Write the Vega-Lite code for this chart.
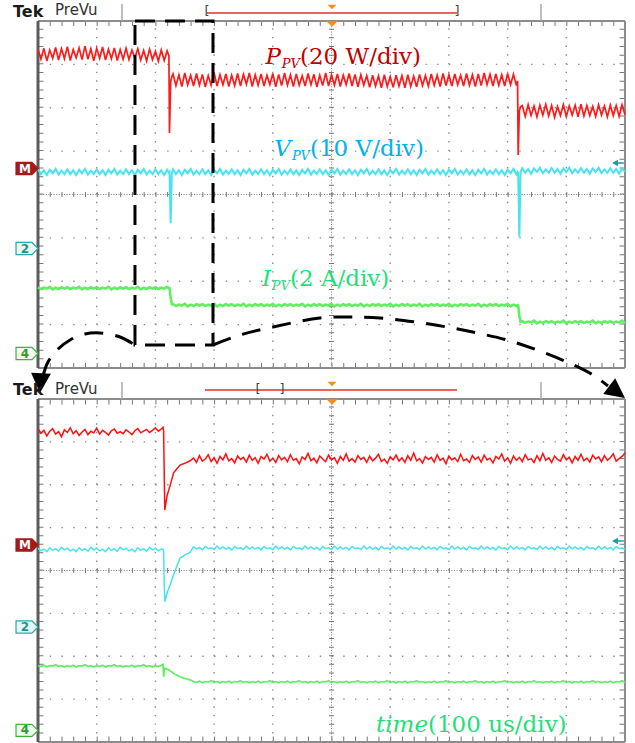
{
"$schema":"https://vega.github.io/schema/vega-lite/v6.json",
"width":635,"height":743,"autosize":{"type":"none"},"padding":0,"background":"white",
"config":{"axis":{"disable":true},"legend":{"disable":true},"view":{"stroke":null}},
"datasets":{
"top":[
{"t":0,"p":7.35,"u":4.58,"i":1.86},{"t":0.05,"p":7.12,"u":4.47,"i":1.82},{"t":0.1,"p":7.37,"u":4.56,"i":1.85},{"t":0.15,"p":7.08,"u":4.45,"i":1.83},{"t":0.2,"p":7.33,"u":4.57,"i":1.87},{"t":0.25,"p":7.14,"u":4.49,"i":1.81},{"t":0.3,"p":7.39,"u":4.59,"i":1.85},{"t":0.35,"p":7.1,"u":4.46,"i":1.82},{"t":0.4,"p":7.36,"u":4.55,"i":1.86},{"t":0.45,"p":7.13,"u":4.47,"i":1.83},
{"t":0.5,"p":7.41,"u":4.58,"i":1.86},{"t":0.55,"p":7.09,"u":4.47,"i":1.82},{"t":0.6,"p":7.34,"u":4.56,"i":1.85},{"t":0.65,"p":7.15,"u":4.45,"i":1.83},{"t":0.7,"p":7.38,"u":4.57,"i":1.87},{"t":0.75,"p":7.11,"u":4.49,"i":1.81},{"t":0.8,"p":7.42,"u":4.59,"i":1.85},{"t":0.85,"p":7.12,"u":4.46,"i":1.82},{"t":0.9,"p":7.36,"u":4.55,"i":1.86},{"t":0.95,"p":7.08,"u":4.47,"i":1.83},
{"t":1,"p":7.37,"u":4.58,"i":1.86},{"t":1.05,"p":7.14,"u":4.47,"i":1.82},{"t":1.1,"p":7.4,"u":4.56,"i":1.85},{"t":1.15,"p":7.1,"u":4.45,"i":1.83},{"t":1.2,"p":7.35,"u":4.57,"i":1.87},{"t":1.25,"p":7.13,"u":4.49,"i":1.81},{"t":1.3,"p":7.38,"u":4.59,"i":1.85},{"t":1.35,"p":7.09,"u":4.46,"i":1.82},{"t":1.4,"p":7.34,"u":4.55,"i":1.86},{"t":1.45,"p":7.12,"u":4.47,"i":1.83},
{"t":1.5,"p":7.37,"u":4.58,"i":1.86},{"t":1.55,"p":7.11,"u":4.47,"i":1.82},{"t":1.6,"p":7.33,"u":4.56,"i":1.85},{"t":1.65,"p":7.15,"u":4.45,"i":1.83},{"t":1.7,"p":7.36,"u":4.57,"i":1.87},{"t":1.75,"p":7.1,"u":4.49,"i":1.81},{"t":1.8,"p":7.32,"u":4.59,"i":1.85},{"t":1.85,"p":7.08,"u":4.46,"i":1.82},{"t":1.9,"p":7.35,"u":4.55,"i":1.86},{"t":1.95,"p":7.11,"u":4.47,"i":1.83},
{"t":2,"p":7.3,"u":4.58,"i":1.86},{"t":2.05,"p":7.07,"u":4.47,"i":1.82},{"t":2.1,"p":7.33,"u":4.56,"i":1.85},{"t":2.15,"p":7.09,"u":4.45,"i":1.83},{"t":2.2,"p":7.31,"u":4.57,"i":1.87},
{"t":2.23,"p":7.2,"u":4.5,"i":1.84},{"t":2.24,"p":5.42,"u":4.52,"i":1.84},{"t":2.26,"p":6.6,"u":3.34,"i":1.62},{"t":2.28,"p":6.72,"u":4.5,"i":1.47},
{"t":2.3,"p":6.78,"u":4.58,"i":1.47},{"t":2.35,"p":6.51,"u":4.47,"i":1.43},{"t":2.4,"p":6.76,"u":4.56,"i":1.46},{"t":2.45,"p":6.49,"u":4.45,"i":1.44},{"t":2.5,"p":6.8,"u":4.57,"i":1.48},{"t":2.55,"p":6.53,"u":4.49,"i":1.42},{"t":2.6,"p":6.75,"u":4.59,"i":1.46},{"t":2.65,"p":6.5,"u":4.46,"i":1.43},{"t":2.7,"p":6.79,"u":4.55,"i":1.47},{"t":2.75,"p":6.52,"u":4.47,"i":1.44},
{"t":2.8,"p":6.77,"u":4.58,"i":1.47},{"t":2.85,"p":6.48,"u":4.47,"i":1.43},{"t":2.9,"p":6.74,"u":4.56,"i":1.46},{"t":2.95,"p":6.52,"u":4.45,"i":1.44},{"t":3,"p":6.81,"u":4.57,"i":1.48},{"t":3.05,"p":6.5,"u":4.49,"i":1.42},{"t":3.1,"p":6.76,"u":4.59,"i":1.46},{"t":3.15,"p":6.53,"u":4.46,"i":1.43},{"t":3.2,"p":6.78,"u":4.55,"i":1.47},{"t":3.25,"p":6.49,"u":4.47,"i":1.44},
{"t":3.3,"p":6.75,"u":4.58,"i":1.47},{"t":3.35,"p":6.51,"u":4.47,"i":1.43},{"t":3.4,"p":6.79,"u":4.56,"i":1.46},{"t":3.45,"p":6.5,"u":4.45,"i":1.44},{"t":3.5,"p":6.77,"u":4.57,"i":1.48},{"t":3.55,"p":6.54,"u":4.49,"i":1.42},{"t":3.6,"p":6.8,"u":4.59,"i":1.46},{"t":3.65,"p":6.49,"u":4.46,"i":1.43},{"t":3.7,"p":6.76,"u":4.55,"i":1.47},{"t":3.75,"p":6.52,"u":4.47,"i":1.44},
{"t":3.8,"p":6.78,"u":4.58,"i":1.47},{"t":3.85,"p":6.5,"u":4.47,"i":1.43},{"t":3.9,"p":6.75,"u":4.56,"i":1.46},{"t":3.95,"p":6.53,"u":4.45,"i":1.44},{"t":4,"p":6.79,"u":4.57,"i":1.48},{"t":4.05,"p":6.48,"u":4.49,"i":1.42},{"t":4.1,"p":6.77,"u":4.59,"i":1.46},{"t":4.15,"p":6.51,"u":4.46,"i":1.43},{"t":4.2,"p":6.8,"u":4.55,"i":1.47},{"t":4.25,"p":6.52,"u":4.47,"i":1.44},
{"t":4.3,"p":6.76,"u":4.58,"i":1.47},{"t":4.35,"p":6.49,"u":4.47,"i":1.43},{"t":4.4,"p":6.78,"u":4.56,"i":1.46},{"t":4.45,"p":6.52,"u":4.45,"i":1.44},{"t":4.5,"p":6.74,"u":4.57,"i":1.48},{"t":4.55,"p":6.5,"u":4.49,"i":1.42},{"t":4.6,"p":6.79,"u":4.59,"i":1.46},{"t":4.65,"p":6.53,"u":4.46,"i":1.43},{"t":4.7,"p":6.77,"u":4.55,"i":1.47},{"t":4.75,"p":6.48,"u":4.47,"i":1.44},
{"t":4.8,"p":6.75,"u":4.58,"i":1.47},{"t":4.85,"p":6.51,"u":4.47,"i":1.43},{"t":4.9,"p":6.8,"u":4.56,"i":1.46},{"t":4.95,"p":6.5,"u":4.45,"i":1.44},{"t":5,"p":6.76,"u":4.57,"i":1.48},{"t":5.05,"p":6.52,"u":4.49,"i":1.42},{"t":5.1,"p":6.78,"u":4.59,"i":1.46},{"t":5.15,"p":6.49,"u":4.46,"i":1.43},{"t":5.2,"p":6.75,"u":4.55,"i":1.47},{"t":5.25,"p":6.53,"u":4.47,"i":1.44},
{"t":5.3,"p":6.79,"u":4.58,"i":1.47},{"t":5.35,"p":6.5,"u":4.47,"i":1.43},{"t":5.4,"p":6.77,"u":4.56,"i":1.46},{"t":5.45,"p":6.48,"u":4.45,"i":1.44},{"t":5.5,"p":6.76,"u":4.57,"i":1.48},{"t":5.55,"p":6.52,"u":4.49,"i":1.42},{"t":5.6,"p":6.74,"u":4.59,"i":1.46},{"t":5.65,"p":6.47,"u":4.46,"i":1.43},{"t":5.7,"p":6.75,"u":4.55,"i":1.47},{"t":5.75,"p":6.5,"u":4.47,"i":1.44},
{"t":5.8,"p":6.73,"u":4.58,"i":1.47},{"t":5.85,"p":6.46,"u":4.47,"i":1.43},{"t":5.9,"p":6.76,"u":4.56,"i":1.46},{"t":5.95,"p":6.49,"u":4.45,"i":1.44},{"t":6,"p":6.72,"u":4.57,"i":1.48},{"t":6.05,"p":6.47,"u":4.49,"i":1.42},{"t":6.1,"p":6.75,"u":4.59,"i":1.46},{"t":6.15,"p":6.5,"u":4.46,"i":1.43},{"t":6.2,"p":6.74,"u":4.55,"i":1.47},{"t":6.25,"p":6.46,"u":4.47,"i":1.44},
{"t":6.3,"p":6.76,"u":4.58,"i":1.47},{"t":6.35,"p":6.49,"u":4.47,"i":1.43},{"t":6.4,"p":6.73,"u":4.56,"i":1.46},{"t":6.45,"p":6.48,"u":4.45,"i":1.44},{"t":6.5,"p":6.77,"u":4.57,"i":1.48},{"t":6.55,"p":6.51,"u":4.49,"i":1.42},{"t":6.6,"p":6.74,"u":4.59,"i":1.46},{"t":6.65,"p":6.5,"u":4.46,"i":1.43},{"t":6.7,"p":6.78,"u":4.55,"i":1.47},{"t":6.75,"p":6.52,"u":4.47,"i":1.44},
{"t":6.8,"p":6.75,"u":4.58,"i":1.47},{"t":6.85,"p":6.49,"u":4.47,"i":1.43},{"t":6.9,"p":6.79,"u":4.56,"i":1.46},{"t":6.95,"p":6.51,"u":4.45,"i":1.44},{"t":7,"p":6.76,"u":4.57,"i":1.48},{"t":7.05,"p":6.5,"u":4.49,"i":1.42},{"t":7.1,"p":6.78,"u":4.59,"i":1.46},{"t":7.15,"p":6.53,"u":4.46,"i":1.43},{"t":7.2,"p":6.75,"u":4.55,"i":1.47},{"t":7.25,"p":6.5,"u":4.47,"i":1.44},
{"t":7.3,"p":6.79,"u":4.58,"i":1.47},{"t":7.35,"p":6.52,"u":4.47,"i":1.43},{"t":7.4,"p":6.76,"u":4.56,"i":1.46},{"t":7.45,"p":6.49,"u":4.45,"i":1.44},{"t":7.5,"p":6.78,"u":4.57,"i":1.48},{"t":7.55,"p":6.51,"u":4.49,"i":1.42},{"t":7.6,"p":6.8,"u":4.59,"i":1.46},{"t":7.65,"p":6.53,"u":4.46,"i":1.43},{"t":7.7,"p":6.77,"u":4.55,"i":1.47},{"t":7.75,"p":6.5,"u":4.47,"i":1.44},
{"t":7.8,"p":6.78,"u":4.58,"i":1.47},{"t":7.85,"p":6.52,"u":4.47,"i":1.43},{"t":7.9,"p":6.76,"u":4.56,"i":1.46},{"t":7.95,"p":6.5,"u":4.45,"i":1.44},{"t":8,"p":6.79,"u":4.57,"i":1.48},{"t":8.05,"p":6.53,"u":4.49,"i":1.42},{"t":8.1,"p":6.77,"u":4.59,"i":1.46},{"t":8.15,"p":6.51,"u":4.46,"i":1.43},
{"t":8.17,"p":6.62,"u":4.52,"i":1.45},{"t":8.18,"p":4.91,"u":4.5,"i":1.44},{"t":8.2,"p":5.92,"u":3.02,"i":1.2},{"t":8.22,"p":6.02,"u":4.52,"i":1.07},
{"t":8.25,"p":6.05,"u":4.61,"i":1.08},{"t":8.3,"p":5.8,"u":4.5,"i":1.04},{"t":8.35,"p":6.07,"u":4.59,"i":1.07},{"t":8.4,"p":5.82,"u":4.48,"i":1.05},{"t":8.45,"p":6.04,"u":4.6,"i":1.09},{"t":8.5,"p":5.79,"u":4.52,"i":1.03},{"t":8.55,"p":6.06,"u":4.62,"i":1.07},{"t":8.6,"p":5.83,"u":4.49,"i":1.04},{"t":8.65,"p":6.08,"u":4.58,"i":1.08},{"t":8.7,"p":5.81,"u":4.5,"i":1.05},
{"t":8.75,"p":6.05,"u":4.61,"i":1.08},{"t":8.8,"p":5.78,"u":4.5,"i":1.04},{"t":8.85,"p":6.03,"u":4.59,"i":1.07},{"t":8.9,"p":5.82,"u":4.48,"i":1.05},{"t":8.95,"p":6.07,"u":4.6,"i":1.09},{"t":9,"p":5.8,"u":4.52,"i":1.03},{"t":9.05,"p":6.04,"u":4.62,"i":1.07},{"t":9.1,"p":5.83,"u":4.49,"i":1.04},{"t":9.15,"p":6.06,"u":4.58,"i":1.08},{"t":9.2,"p":5.79,"u":4.5,"i":1.05},
{"t":9.25,"p":6.08,"u":4.61,"i":1.08},{"t":9.3,"p":5.81,"u":4.5,"i":1.04},{"t":9.35,"p":6.05,"u":4.59,"i":1.07},{"t":9.4,"p":5.82,"u":4.48,"i":1.05},{"t":9.45,"p":6.03,"u":4.6,"i":1.09},{"t":9.5,"p":5.8,"u":4.52,"i":1.03},{"t":9.55,"p":6.07,"u":4.62,"i":1.07},{"t":9.6,"p":5.83,"u":4.49,"i":1.04},{"t":9.65,"p":6.04,"u":4.58,"i":1.08},{"t":9.7,"p":5.79,"u":4.5,"i":1.05},
{"t":9.75,"p":6.06,"u":4.61,"i":1.08},{"t":9.8,"p":5.82,"u":4.5,"i":1.04},{"t":9.85,"p":6.05,"u":4.59,"i":1.07},{"t":9.9,"p":5.8,"u":4.48,"i":1.05},{"t":9.95,"p":6.07,"u":4.6,"i":1.09},{"t":10,"p":5.84,"u":4.52,"i":1.03}
],
"bot":[
{"t":0,"p":7.3,"u":4.52,"i":1.78},{"t":0.05,"p":7.2,"u":4.46,"i":1.76},{"t":0.1,"p":7.27,"u":4.5,"i":1.79},{"t":0.15,"p":7.14,"u":4.44,"i":1.75},{"t":0.2,"p":7.25,"u":4.53,"i":1.78},{"t":0.25,"p":7.31,"u":4.47,"i":1.77},{"t":0.3,"p":7.18,"u":4.51,"i":1.8},{"t":0.35,"p":7.24,"u":4.45,"i":1.76},{"t":0.4,"p":7.12,"u":4.54,"i":1.78},{"t":0.45,"p":7.28,"u":4.48,"i":1.75},
{"t":0.5,"p":7.22,"u":4.52,"i":1.78},{"t":0.55,"p":7.33,"u":4.46,"i":1.76},{"t":0.6,"p":7.19,"u":4.5,"i":1.79},{"t":0.65,"p":7.26,"u":4.44,"i":1.75},{"t":0.7,"p":7.15,"u":4.53,"i":1.78},{"t":0.75,"p":7.23,"u":4.47,"i":1.77},{"t":0.8,"p":7.29,"u":4.51,"i":1.8},{"t":0.85,"p":7.17,"u":4.45,"i":1.76},{"t":0.9,"p":7.25,"u":4.54,"i":1.78},{"t":0.95,"p":7.21,"u":4.48,"i":1.75},
{"t":1,"p":7.32,"u":4.52,"i":1.78},{"t":1.05,"p":7.18,"u":4.46,"i":1.76},{"t":1.1,"p":7.27,"u":4.5,"i":1.79},{"t":1.15,"p":7.22,"u":4.44,"i":1.75},{"t":1.2,"p":7.16,"u":4.53,"i":1.78},{"t":1.25,"p":7.26,"u":4.47,"i":1.77},{"t":1.3,"p":7.3,"u":4.51,"i":1.8},{"t":1.35,"p":7.2,"u":4.45,"i":1.76},{"t":1.4,"p":7.24,"u":4.54,"i":1.78},{"t":1.45,"p":7.19,"u":4.48,"i":1.75},
{"t":1.5,"p":7.28,"u":4.52,"i":1.78},{"t":1.55,"p":7.23,"u":4.46,"i":1.76},{"t":1.6,"p":7.17,"u":4.5,"i":1.79},{"t":1.65,"p":7.26,"u":4.44,"i":1.75},{"t":1.7,"p":7.31,"u":4.53,"i":1.78},{"t":1.75,"p":7.21,"u":4.47,"i":1.77},{"t":1.8,"p":7.25,"u":4.51,"i":1.8},{"t":1.85,"p":7.29,"u":4.45,"i":1.76},{"t":1.9,"p":7.22,"u":4.54,"i":1.78},{"t":1.95,"p":7.27,"u":4.48,"i":1.75},
{"t":2,"p":7.33,"u":4.52,"i":1.78},{"t":2.05,"p":7.25,"u":4.46,"i":1.76},{"t":2.1,"p":7.3,"u":4.5,"i":1.79},
{"t":2.13,"p":7.34,"u":4.49,"i":1.81},{"t":2.14,"p":7.26,"u":4.47,"i":1.52},{"t":2.15,"p":6.3,"u":3.7,"i":1.7},{"t":2.16,"p":5.41,"u":3.27,"i":1.72},{"t":2.2,"p":5.75,"u":3.48,"i":1.7},{"t":2.25,"p":5.98,"u":3.66,"i":1.66},{"t":2.31,"p":6.28,"u":3.9,"i":1.6},{"t":2.36,"p":6.36,"u":4.08,"i":1.56},{"t":2.42,"p":6.46,"u":4.29,"i":1.52},{"t":2.5,"p":6.5,"u":4.36,"i":1.48},{"t":2.59,"p":6.56,"u":4.42,"i":1.45},
{"t":2.65,"p":6.62,"u":4.55,"i":1.41},{"t":2.7,"p":6.52,"u":4.5,"i":1.39},{"t":2.75,"p":6.68,"u":4.54,"i":1.42},{"t":2.8,"p":6.55,"u":4.48,"i":1.38},{"t":2.85,"p":6.6,"u":4.56,"i":1.41},{"t":2.9,"p":6.7,"u":4.51,"i":1.4},{"t":2.95,"p":6.54,"u":4.53,"i":1.43},{"t":3,"p":6.63,"u":4.49,"i":1.39},{"t":3.05,"p":6.5,"u":4.57,"i":1.41},{"t":3.1,"p":6.66,"u":4.5,"i":1.38},
{"t":3.15,"p":6.58,"u":4.55,"i":1.41},{"t":3.2,"p":6.72,"u":4.5,"i":1.39},{"t":3.25,"p":6.56,"u":4.54,"i":1.42},{"t":3.3,"p":6.61,"u":4.48,"i":1.38},{"t":3.35,"p":6.51,"u":4.56,"i":1.41},{"t":3.4,"p":6.67,"u":4.51,"i":1.4},{"t":3.45,"p":6.59,"u":4.53,"i":1.43},{"t":3.5,"p":6.64,"u":4.49,"i":1.39},{"t":3.55,"p":6.53,"u":4.57,"i":1.41},{"t":3.6,"p":6.69,"u":4.5,"i":1.38},
{"t":3.65,"p":6.57,"u":4.55,"i":1.41},{"t":3.7,"p":6.63,"u":4.5,"i":1.39},{"t":3.75,"p":6.5,"u":4.54,"i":1.42},{"t":3.8,"p":6.66,"u":4.48,"i":1.38},{"t":3.85,"p":6.6,"u":4.56,"i":1.41},{"t":3.9,"p":6.71,"u":4.51,"i":1.4},{"t":3.95,"p":6.55,"u":4.53,"i":1.43},{"t":4,"p":6.62,"u":4.49,"i":1.39},{"t":4.05,"p":6.52,"u":4.57,"i":1.41},{"t":4.1,"p":6.68,"u":4.5,"i":1.38},
{"t":4.15,"p":6.58,"u":4.55,"i":1.41},{"t":4.2,"p":6.64,"u":4.5,"i":1.39},{"t":4.25,"p":6.54,"u":4.54,"i":1.42},{"t":4.3,"p":6.7,"u":4.48,"i":1.38},{"t":4.35,"p":6.57,"u":4.56,"i":1.41},{"t":4.4,"p":6.61,"u":4.51,"i":1.4},{"t":4.45,"p":6.49,"u":4.53,"i":1.43},{"t":4.5,"p":6.65,"u":4.49,"i":1.39},{"t":4.55,"p":6.59,"u":4.57,"i":1.41},{"t":4.6,"p":6.73,"u":4.5,"i":1.38},
{"t":4.65,"p":6.56,"u":4.55,"i":1.41},{"t":4.7,"p":6.62,"u":4.5,"i":1.39},{"t":4.75,"p":6.51,"u":4.54,"i":1.42},{"t":4.8,"p":6.67,"u":4.48,"i":1.38},{"t":4.85,"p":6.6,"u":4.56,"i":1.41},{"t":4.9,"p":6.54,"u":4.51,"i":1.4},{"t":4.95,"p":6.69,"u":4.53,"i":1.43},{"t":5,"p":6.58,"u":4.49,"i":1.39},{"t":5.05,"p":6.63,"u":4.57,"i":1.41},{"t":5.1,"p":6.5,"u":4.5,"i":1.38},
{"t":5.15,"p":6.66,"u":4.55,"i":1.41},{"t":5.2,"p":6.57,"u":4.5,"i":1.39},{"t":5.25,"p":6.72,"u":4.54,"i":1.42},{"t":5.3,"p":6.55,"u":4.48,"i":1.38},{"t":5.35,"p":6.61,"u":4.56,"i":1.41},{"t":5.4,"p":6.53,"u":4.51,"i":1.4},{"t":5.45,"p":6.68,"u":4.53,"i":1.43},{"t":5.5,"p":6.59,"u":4.49,"i":1.39},{"t":5.55,"p":6.64,"u":4.57,"i":1.41},{"t":5.6,"p":6.52,"u":4.5,"i":1.38},
{"t":5.65,"p":6.67,"u":4.55,"i":1.41},{"t":5.7,"p":6.56,"u":4.5,"i":1.39},{"t":5.75,"p":6.62,"u":4.54,"i":1.42},{"t":5.8,"p":6.71,"u":4.48,"i":1.38},{"t":5.85,"p":6.54,"u":4.56,"i":1.41},{"t":5.9,"p":6.6,"u":4.51,"i":1.4},{"t":5.95,"p":6.5,"u":4.53,"i":1.43},{"t":6,"p":6.65,"u":4.49,"i":1.39},{"t":6.05,"p":6.58,"u":4.57,"i":1.41},{"t":6.1,"p":6.69,"u":4.5,"i":1.38},
{"t":6.15,"p":6.55,"u":4.55,"i":1.41},{"t":6.2,"p":6.63,"u":4.5,"i":1.39},{"t":6.25,"p":6.52,"u":4.54,"i":1.42},{"t":6.3,"p":6.68,"u":4.48,"i":1.38},{"t":6.35,"p":6.57,"u":4.56,"i":1.41},{"t":6.4,"p":6.74,"u":4.51,"i":1.4},{"t":6.45,"p":6.56,"u":4.53,"i":1.43},{"t":6.5,"p":6.61,"u":4.49,"i":1.39},{"t":6.55,"p":6.51,"u":4.57,"i":1.41},{"t":6.6,"p":6.66,"u":4.5,"i":1.38},
{"t":6.65,"p":6.59,"u":4.55,"i":1.41},{"t":6.7,"p":6.64,"u":4.5,"i":1.39},{"t":6.75,"p":6.53,"u":4.54,"i":1.42},{"t":6.8,"p":6.7,"u":4.48,"i":1.38},{"t":6.85,"p":6.57,"u":4.56,"i":1.41},{"t":6.9,"p":6.62,"u":4.51,"i":1.4},{"t":6.95,"p":6.49,"u":4.53,"i":1.43},{"t":7,"p":6.67,"u":4.49,"i":1.39},{"t":7.05,"p":6.58,"u":4.57,"i":1.41},{"t":7.1,"p":6.63,"u":4.5,"i":1.38},
{"t":7.15,"p":6.54,"u":4.55,"i":1.41},{"t":7.2,"p":6.71,"u":4.5,"i":1.39},{"t":7.25,"p":6.56,"u":4.54,"i":1.42},{"t":7.3,"p":6.6,"u":4.48,"i":1.38},{"t":7.35,"p":6.52,"u":4.56,"i":1.41},{"t":7.4,"p":6.68,"u":4.51,"i":1.4},{"t":7.45,"p":6.59,"u":4.53,"i":1.43},{"t":7.5,"p":6.65,"u":4.49,"i":1.39},{"t":7.55,"p":6.53,"u":4.57,"i":1.41},{"t":7.6,"p":6.69,"u":4.5,"i":1.38},
{"t":7.65,"p":6.58,"u":4.55,"i":1.41},{"t":7.7,"p":6.62,"u":4.5,"i":1.39},{"t":7.75,"p":6.51,"u":4.54,"i":1.42},{"t":7.8,"p":6.66,"u":4.48,"i":1.38},{"t":7.85,"p":6.6,"u":4.56,"i":1.41},{"t":7.9,"p":6.72,"u":4.51,"i":1.4},{"t":7.95,"p":6.55,"u":4.53,"i":1.43},{"t":8,"p":6.63,"u":4.49,"i":1.39},{"t":8.05,"p":6.5,"u":4.57,"i":1.41},{"t":8.1,"p":6.67,"u":4.5,"i":1.38},
{"t":8.15,"p":6.57,"u":4.55,"i":1.41},{"t":8.2,"p":6.64,"u":4.5,"i":1.39},{"t":8.25,"p":6.54,"u":4.54,"i":1.42},{"t":8.3,"p":6.7,"u":4.48,"i":1.38},{"t":8.35,"p":6.58,"u":4.56,"i":1.41},{"t":8.4,"p":6.61,"u":4.51,"i":1.4},{"t":8.45,"p":6.52,"u":4.53,"i":1.43},{"t":8.5,"p":6.68,"u":4.49,"i":1.39},{"t":8.55,"p":6.56,"u":4.57,"i":1.41},{"t":8.6,"p":6.73,"u":4.5,"i":1.38},
{"t":8.65,"p":6.57,"u":4.55,"i":1.41},{"t":8.7,"p":6.63,"u":4.5,"i":1.39},{"t":8.75,"p":6.52,"u":4.54,"i":1.42},{"t":8.8,"p":6.67,"u":4.48,"i":1.38},{"t":8.85,"p":6.59,"u":4.56,"i":1.41},{"t":8.9,"p":6.55,"u":4.51,"i":1.4},{"t":8.95,"p":6.7,"u":4.53,"i":1.43},{"t":9,"p":6.58,"u":4.49,"i":1.39},{"t":9.05,"p":6.64,"u":4.57,"i":1.41},{"t":9.1,"p":6.51,"u":4.5,"i":1.38},
{"t":9.15,"p":6.66,"u":4.55,"i":1.41},{"t":9.2,"p":6.57,"u":4.5,"i":1.39},{"t":9.25,"p":6.71,"u":4.54,"i":1.42},{"t":9.3,"p":6.56,"u":4.48,"i":1.38},{"t":9.35,"p":6.62,"u":4.56,"i":1.41},{"t":9.4,"p":6.53,"u":4.51,"i":1.4},{"t":9.45,"p":6.69,"u":4.53,"i":1.43},{"t":9.5,"p":6.6,"u":4.49,"i":1.39},{"t":9.55,"p":6.65,"u":4.57,"i":1.41},{"t":9.6,"p":6.54,"u":4.5,"i":1.38},
{"t":9.65,"p":6.68,"u":4.55,"i":1.41},{"t":9.7,"p":6.57,"u":4.5,"i":1.39},{"t":9.75,"p":6.63,"u":4.54,"i":1.42},{"t":9.8,"p":6.72,"u":4.48,"i":1.38},{"t":9.85,"p":6.55,"u":4.56,"i":1.41},{"t":9.9,"p":6.61,"u":4.51,"i":1.4},{"t":9.95,"p":6.66,"u":4.53,"i":1.43},{"t":10,"p":6.74,"u":4.49,"i":1.39}
]
},
"resolve":{"scale":{"y":"independent"}},
"layer":[
{"layer":[
{"data":{"values":[{"v":1},{"v":2},{"v":3},{"v":5},{"v":6},{"v":7}]},"mark":{"type":"rule","color":"#8c8c8c","strokeWidth":1.4,"strokeDash":[1.4,10.34]},"encoding":{"x":{"datum":0,"type":"quantitative","scale":{"domain":[-0.6474,10.1704],"nice":false,"zero":false}},"x2":{"datum":10},"y":{"field":"v","type":"quantitative","scale":{"domain":[-8.6455,8.4841],"nice":false,"zero":false}}}},
{"data":{"values":[{"t":1},{"t":2},{"t":3},{"t":4},{"t":6},{"t":7},{"t":8},{"t":9}]},"mark":{"type":"rule","color":"#8c8c8c","strokeWidth":1.4,"strokeDash":[1.4,7.275]},"encoding":{"x":{"field":"t","type":"quantitative","scale":{"domain":[-0.6474,10.1704],"nice":false,"zero":false}},"y":{"datum":0,"type":"quantitative","scale":{"domain":[-8.6455,8.4841],"nice":false,"zero":false}},"y2":{"datum":8}}},
{"data":{"values":[{}]},"mark":{"type":"rule","color":"#808080","strokeWidth":1,"strokeDash":[1,1.6]},"encoding":{"x":{"datum":0,"type":"quantitative","scale":{"domain":[-0.6474,10.1704],"nice":false,"zero":false}},"x2":{"datum":10},"y":{"datum":4,"type":"quantitative","scale":{"domain":[-8.6455,8.4841],"nice":false,"zero":false}}}},
{"data":{"values":[{}]},"mark":{"type":"rule","color":"#808080","strokeWidth":1,"strokeDash":[1,1.6]},"encoding":{"x":{"datum":5,"type":"quantitative","scale":{"domain":[-0.6474,10.1704],"nice":false,"zero":false}},"y":{"datum":0,"type":"quantitative","scale":{"domain":[-8.6455,8.4841],"nice":false,"zero":false}},"y2":{"datum":8}}},
{"data":{"values":[{"v":4},{"v":0.06},{"v":7.94}]},"mark":{"type":"rule","color":"#777777","strokeWidth":5,"strokeDash":[1,10.74]},"encoding":{"x":{"datum":0,"type":"quantitative","scale":{"domain":[-0.6474,10.1704],"nice":false,"zero":false}},"x2":{"datum":10},"y":{"field":"v","type":"quantitative","scale":{"domain":[-8.6455,8.4841],"nice":false,"zero":false}}}},
{"data":{"values":[{"t":5},{"t":0.05},{"t":9.95}]},"mark":{"type":"rule","color":"#777777","strokeWidth":5,"strokeDash":[1,7.675]},"encoding":{"x":{"field":"t","type":"quantitative","scale":{"domain":[-0.6474,10.1704],"nice":false,"zero":false}},"y":{"datum":0,"type":"quantitative","scale":{"domain":[-8.6455,8.4841],"nice":false,"zero":false}},"y2":{"datum":8}}},
{"data":{"values":[{"v":0},{"v":8}]},"mark":{"type":"rule","color":"#8c8c8c","strokeWidth":2},"encoding":{"x":{"datum":0,"type":"quantitative","scale":{"domain":[-0.6474,10.1704],"nice":false,"zero":false}},"x2":{"datum":10},"y":{"field":"v","type":"quantitative","scale":{"domain":[-8.6455,8.4841],"nice":false,"zero":false}}}},
{"data":{"values":[{"t":10}]},"mark":{"type":"rule","color":"#8c8c8c","strokeWidth":2},"encoding":{"x":{"field":"t","type":"quantitative","scale":{"domain":[-0.6474,10.1704],"nice":false,"zero":false}},"y":{"datum":0,"type":"quantitative","scale":{"domain":[-8.6455,8.4841],"nice":false,"zero":false}},"y2":{"datum":8}}},
{"data":{"values":[{"t":0}]},"mark":{"type":"rule","color":"#5c5c5c","strokeWidth":3},"encoding":{"x":{"field":"t","type":"quantitative","scale":{"domain":[-0.6474,10.1704],"nice":false,"zero":false}},"y":{"datum":0,"type":"quantitative","scale":{"domain":[-8.6455,8.4841],"nice":false,"zero":false}},"y2":{"datum":8}}},
{"data":{"name":"top"},"mark":{"type":"line","color":"#ff1a1a","strokeWidth":1.7},"encoding":{"x":{"field":"t","type":"quantitative","scale":{"domain":[-0.6474,10.1704],"nice":false,"zero":false}},"y":{"field":"p","type":"quantitative","scale":{"domain":[-8.6455,8.4841],"nice":false,"zero":false}}}},
{"data":{"name":"top"},"mark":{"type":"line","color":"#46e4ee","strokeWidth":2},"encoding":{"x":{"field":"t","type":"quantitative","scale":{"domain":[-0.6474,10.1704],"nice":false,"zero":false}},"y":{"field":"u","type":"quantitative","scale":{"domain":[-8.6455,8.4841],"nice":false,"zero":false}}}},
{"data":{"name":"top"},"mark":{"type":"line","color":"#5ef05e","strokeWidth":2.6},"encoding":{"x":{"field":"t","type":"quantitative","scale":{"domain":[-0.6474,10.1704],"nice":false,"zero":false}},"y":{"field":"i","type":"quantitative","scale":{"domain":[-8.6455,8.4841],"nice":false,"zero":false}}}},
{"data":{"values":[{"t":4.14,"v":7.009,"s":"P","c":"P"},{"t":4.31,"v":4.888,"s":"V","c":"V"},{"t":3.969,"v":1.89,"s":"I","c":"I"}]},"mark":{"type":"text","align":"right","baseline":"alphabetic","font":"DejaVu Serif","fontStyle":"italic","fontSize":23},"encoding":{"x":{"field":"t","type":"quantitative","scale":{"domain":[-0.6474,10.1704],"nice":false,"zero":false}},"y":{"field":"v","type":"quantitative","scale":{"domain":[-8.6455,8.4841],"nice":false,"zero":false}},"text":{"field":"s"},"color":{"field":"c","type":"nominal","scale":{"domain":["P","V","I","T","m","n2","n4"],"range":["#c00000","#00b0f0","#1fe07a","#1fe07a","#ffffff","#1a9595","#2d9e2d"]},"legend":null}}},
{"data":{"values":[{"t":4.463,"v":6.916,"s":"PV","c":"P"},{"t":4.634,"v":4.795,"s":"PV","c":"V"},{"t":4.293,"v":1.798,"s":"PV","c":"I"}]},"mark":{"type":"text","align":"right","baseline":"alphabetic","font":"DejaVu Serif","fontStyle":"italic","fontSize":13},"encoding":{"x":{"field":"t","type":"quantitative","scale":{"domain":[-0.6474,10.1704],"nice":false,"zero":false}},"y":{"field":"v","type":"quantitative","scale":{"domain":[-8.6455,8.4841],"nice":false,"zero":false}},"text":{"field":"s"},"color":{"field":"c","type":"nominal","scale":{"domain":["P","V","I","T","m","n2","n4"],"range":["#c00000","#00b0f0","#1fe07a","#1fe07a","#ffffff","#1a9595","#2d9e2d"]},"legend":null}}},
{"data":{"values":[{"t":4.463,"v":7.009,"s":"(20 W/div)","c":"P"},{"t":4.634,"v":4.888,"s":"(10 V/div)","c":"V"},{"t":4.293,"v":1.89,"s":"(2 A/div)","c":"I"}]},"mark":{"type":"text","align":"left","baseline":"alphabetic","font":"DejaVu Serif","fontSize":23},"encoding":{"x":{"field":"t","type":"quantitative","scale":{"domain":[-0.6474,10.1704],"nice":false,"zero":false}},"y":{"field":"v","type":"quantitative","scale":{"domain":[-8.6455,8.4841],"nice":false,"zero":false}},"text":{"field":"s"},"color":{"field":"c","type":"nominal","scale":{"domain":["P","V","I","T","m","n2","n4"],"range":["#c00000","#00b0f0","#1fe07a","#1fe07a","#ffffff","#1a9595","#2d9e2d"]},"legend":null}}},
{"data":{"values":[{"t":-0.426,"v":8.092,"s":"Tek"}]},"mark":{"type":"text","align":"left","baseline":"alphabetic","font":"DejaVu Sans","fontWeight":"bold","fontSize":16,"color":"#1a1a1a"},"encoding":{"x":{"field":"t","type":"quantitative","scale":{"domain":[-0.6474,10.1704],"nice":false,"zero":false}},"y":{"field":"v","type":"quantitative","scale":{"domain":[-8.6455,8.4841],"nice":false,"zero":false}},"text":{"field":"s"}}},
{"data":{"values":[{"t":0.29,"v":8.127,"s":"PreVu"}]},"mark":{"type":"text","align":"left","baseline":"alphabetic","font":"DejaVu Sans","fontSize":15,"color":"#333333"},"encoding":{"x":{"field":"t","type":"quantitative","scale":{"domain":[-0.6474,10.1704],"nice":false,"zero":false}},"y":{"field":"v","type":"quantitative","scale":{"domain":[-8.6455,8.4841],"nice":false,"zero":false}},"text":{"field":"s"}}},
{"data":{"values":[{"t":1.431},{"t":8.569}]},"mark":{"type":"rule","color":"#aaaaaa","strokeWidth":1.5},"encoding":{"x":{"field":"t","type":"quantitative","scale":{"domain":[-0.6474,10.1704],"nice":false,"zero":false}},"y":{"datum":7.999,"type":"quantitative","scale":{"domain":[-8.6455,8.4841],"nice":false,"zero":false}},"y2":{"datum":8.392}}},
{"data":{"values":[{}]},"mark":{"type":"rule","color":"#e53030","strokeWidth":1.5},"encoding":{"x":{"datum":2.879,"type":"quantitative","scale":{"domain":[-0.6474,10.1704],"nice":false,"zero":false}},"x2":{"datum":7.138},"y":{"datum":8.184,"type":"quantitative","scale":{"domain":[-8.6455,8.4841],"nice":false,"zero":false}}}},
{"data":{"values":[{"t":2.879,"v":8.231,"s":"["},{"t":7.138,"v":8.231,"s":"]"}]},"mark":{"type":"text","align":"center","baseline":"middle","font":"DejaVu Sans","fontSize":13,"color":"#444444"},"encoding":{"x":{"field":"t","type":"quantitative","scale":{"domain":[-0.6474,10.1704],"nice":false,"zero":false}},"y":{"field":"v","type":"quantitative","scale":{"domain":[-8.6455,8.4841],"nice":false,"zero":false}},"text":{"field":"s"}}},
{"data":{"values":[{"t":5.009,"v":8.323}]},"mark":{"type":"point","shape":"M -1 -0.5 L 1 -0.5 L 0 0.5 Z","filled":true,"color":"#f0901e","opacity":1,"size":81},"encoding":{"x":{"field":"t","type":"quantitative","scale":{"domain":[-0.6474,10.1704],"nice":false,"zero":false}},"y":{"field":"v","type":"quantitative","scale":{"domain":[-8.6455,8.4841],"nice":false,"zero":false}}}},
{"data":{"values":[{"t":5.009,"v":7.931}]},"mark":{"type":"point","shape":"M -1 -0.5 L 1 -0.5 L 0 0.5 Z","filled":true,"color":"#f0901e","opacity":1,"size":130},"encoding":{"x":{"field":"t","type":"quantitative","scale":{"domain":[-0.6474,10.1704],"nice":false,"zero":false}},"y":{"field":"v","type":"quantitative","scale":{"domain":[-8.6455,8.4841],"nice":false,"zero":false}}}},
{"data":{"values":[{"t":-0.187,"v":4.599,"k":"m"},{"t":-0.187,"v":2.755,"k":"n2"},{"t":-0.187,"v":0.334,"k":"n4"}]},"mark":{"type":"point","shape":"M -1 -0.55 L 0.45 -0.55 L 1 0 L 0.45 0.55 L -1 0.55 Z","filled":true,"opacity":1,"size":484,"strokeWidth":1.2},"encoding":{"x":{"field":"t","type":"quantitative","scale":{"domain":[-0.6474,10.1704],"nice":false,"zero":false}},"y":{"field":"v","type":"quantitative","scale":{"domain":[-8.6455,8.4841],"nice":false,"zero":false}},"fill":{"field":"k","type":"nominal","scale":{"domain":["m","n2","n4"],"range":["#a51a1a","#e9f8f8","#effbef"]},"legend":null},"stroke":{"field":"k","type":"nominal","scale":{"domain":["m","n2","n4"],"range":["#a51a1a","#2aa8a8","#3cb43c"]},"legend":null}}},
{"data":{"values":[{"t":-0.221,"v":4.599,"s":"M","c":"m"},{"t":-0.221,"v":2.755,"s":"2","c":"n2"},{"t":-0.221,"v":0.334,"s":"4","c":"n4"}]},"mark":{"type":"text","align":"center","baseline":"middle","font":"DejaVu Sans","fontWeight":"bold","fontSize":12},"encoding":{"x":{"field":"t","type":"quantitative","scale":{"domain":[-0.6474,10.1704],"nice":false,"zero":false}},"y":{"field":"v","type":"quantitative","scale":{"domain":[-8.6455,8.4841],"nice":false,"zero":false}},"text":{"field":"s"},"color":{"field":"c","type":"nominal","scale":{"domain":["P","V","I","T","m","n2","n4"],"range":["#c00000","#00b0f0","#1fe07a","#1fe07a","#ffffff","#1a9595","#2d9e2d"]},"legend":null}}},
{"data":{"values":[{"t":9.83,"v":4.726}]},"mark":{"type":"point","shape":"triangle-left","filled":true,"color":"#1a9a9a","opacity":1,"size":45},"encoding":{"x":{"field":"t","type":"quantitative","scale":{"domain":[-0.6474,10.1704],"nice":false,"zero":false}},"y":{"field":"v","type":"quantitative","scale":{"domain":[-8.6455,8.4841],"nice":false,"zero":false}}}},
{"data":{"values":[{}]},"mark":{"type":"rule","color":"#1a9a9a","strokeWidth":1.5},"encoding":{"x":{"datum":9.87,"type":"quantitative","scale":{"domain":[-0.6474,10.1704],"nice":false,"zero":false}},"x2":{"datum":9.98},"y":{"datum":4.726,"type":"quantitative","scale":{"domain":[-8.6455,8.4841],"nice":false,"zero":false}}}},
{"data":{"values":[{"t1":1.652,"t2":2.981,"v1":0.53,"v2":8.0}]},"mark":{"type":"rect","filled":false,"stroke":"#000000","strokeWidth":3,"strokeDash":[20,10]},"encoding":{"x":{"field":"t1","type":"quantitative","scale":{"domain":[-0.6474,10.1704],"nice":false,"zero":false}},"x2":{"field":"t2"},"y":{"field":"v1","type":"quantitative","scale":{"domain":[-8.6455,8.4841],"nice":false,"zero":false}},"y2":{"field":"v2"}}},
{"data":{"values":[
{"a":"L","o":0,"t":0.085,"v":-0.184},{"a":"L","o":1,"t":0.17,"v":0.138},{"a":"L","o":2,"t":0.324,"v":0.415},{"a":"L","o":3,"t":0.545,"v":0.646},{"a":"L","o":4,"t":0.801,"v":0.784},{"a":"L","o":5,"t":1.056,"v":0.807},{"a":"L","o":6,"t":1.397,"v":0.715},{"a":"L","o":7,"t":1.652,"v":0.53},
{"a":"R","o":0,"t":2.981,"v":0.53},{"a":"R","o":1,"t":3.441,"v":0.761},{"a":"R","o":2,"t":4.003,"v":0.945},{"a":"R","o":3,"t":4.804,"v":1.153},{"a":"R","o":4,"t":5.315,"v":1.176},{"a":"R","o":5,"t":5.826,"v":1.153},{"a":"R","o":6,"t":6.422,"v":1.061},{"a":"R","o":7,"t":6.968,"v":0.945},{"a":"R","o":8,"t":7.479,"v":0.807},{"a":"R","o":9,"t":7.99,"v":0.646},{"a":"R","o":10,"t":8.501,"v":0.415},{"a":"R","o":11,"t":9.012,"v":0.138},{"a":"R","o":12,"t":9.455,"v":-0.161},{"a":"R","o":13,"t":9.71,"v":-0.415}
]},"mark":{"type":"line","color":"#000000","strokeWidth":3,"strokeDash":[19,12],"interpolate":"catmull-rom"},"encoding":{"x":{"field":"t","type":"quantitative","scale":{"domain":[-0.6474,10.1704],"nice":false,"zero":false}},"y":{"field":"v","type":"quantitative","scale":{"domain":[-8.6455,8.4841],"nice":false,"zero":false}},"detail":{"field":"a","type":"nominal"},"order":{"field":"o","type":"quantitative"}}},
{"data":{"values":[{"t":0.043,"v":-0.323}]},"mark":{"type":"point","shape":"M 0 -1 L 0.9 0.8 L -0.9 0.8 Z","filled":true,"color":"#000000","opacity":1,"size":484,"angle":183},"encoding":{"x":{"field":"t","type":"quantitative","scale":{"domain":[-0.6474,10.1704],"nice":false,"zero":false}},"y":{"field":"v","type":"quantitative","scale":{"domain":[-8.6455,8.4841],"nice":false,"zero":false}}}},
{"data":{"values":[{"t":9.85,"v":-0.54}]},"mark":{"type":"point","shape":"M 0 -1 L 0.9 0.8 L -0.9 0.8 Z","filled":true,"color":"#000000","opacity":1,"size":484,"angle":127},"encoding":{"x":{"field":"t","type":"quantitative","scale":{"domain":[-0.6474,10.1704],"nice":false,"zero":false}},"y":{"field":"v","type":"quantitative","scale":{"domain":[-8.6455,8.4841],"nice":false,"zero":false}}}}
]},
{"layer":[
{"data":{"values":[{"v":1},{"v":2},{"v":3},{"v":5},{"v":6},{"v":7}]},"mark":{"type":"rule","color":"#8c8c8c","strokeWidth":1.4,"strokeDash":[1.4,10.34]},"encoding":{"x":{"datum":0,"type":"quantitative","scale":{"domain":[-0.6474,10.1704],"nice":false,"zero":false}},"x2":{"datum":10},"y":{"field":"v","type":"quantitative","scale":{"domain":[-0.0233,17.306],"nice":false,"zero":false}}}},
{"data":{"values":[{"t":1},{"t":2},{"t":3},{"t":4},{"t":6},{"t":7},{"t":8},{"t":9}]},"mark":{"type":"rule","color":"#8c8c8c","strokeWidth":1.4,"strokeDash":[1.4,7.175]},"encoding":{"x":{"field":"t","type":"quantitative","scale":{"domain":[-0.6474,10.1704],"nice":false,"zero":false}},"y":{"datum":0,"type":"quantitative","scale":{"domain":[-0.0233,17.306],"nice":false,"zero":false}},"y2":{"datum":8}}},
{"data":{"values":[{}]},"mark":{"type":"rule","color":"#808080","strokeWidth":1,"strokeDash":[1,1.6]},"encoding":{"x":{"datum":0,"type":"quantitative","scale":{"domain":[-0.6474,10.1704],"nice":false,"zero":false}},"x2":{"datum":10},"y":{"datum":4,"type":"quantitative","scale":{"domain":[-0.0233,17.306],"nice":false,"zero":false}}}},
{"data":{"values":[{}]},"mark":{"type":"rule","color":"#808080","strokeWidth":1,"strokeDash":[1,1.6]},"encoding":{"x":{"datum":5,"type":"quantitative","scale":{"domain":[-0.6474,10.1704],"nice":false,"zero":false}},"y":{"datum":0,"type":"quantitative","scale":{"domain":[-0.0233,17.306],"nice":false,"zero":false}},"y2":{"datum":8}}},
{"data":{"values":[{"v":4},{"v":0.07},{"v":7.93}]},"mark":{"type":"rule","color":"#777777","strokeWidth":5,"strokeDash":[1,10.74]},"encoding":{"x":{"datum":0,"type":"quantitative","scale":{"domain":[-0.6474,10.1704],"nice":false,"zero":false}},"x2":{"datum":10},"y":{"field":"v","type":"quantitative","scale":{"domain":[-0.0233,17.306],"nice":false,"zero":false}}}},
{"data":{"values":[{"t":5},{"t":0.05},{"t":9.95}]},"mark":{"type":"rule","color":"#777777","strokeWidth":5,"strokeDash":[1,7.575]},"encoding":{"x":{"field":"t","type":"quantitative","scale":{"domain":[-0.6474,10.1704],"nice":false,"zero":false}},"y":{"datum":0,"type":"quantitative","scale":{"domain":[-0.0233,17.306],"nice":false,"zero":false}},"y2":{"datum":8}}},
{"data":{"values":[{"v":0},{"v":8}]},"mark":{"type":"rule","color":"#8c8c8c","strokeWidth":2},"encoding":{"x":{"datum":0,"type":"quantitative","scale":{"domain":[-0.6474,10.1704],"nice":false,"zero":false}},"x2":{"datum":10},"y":{"field":"v","type":"quantitative","scale":{"domain":[-0.0233,17.306],"nice":false,"zero":false}}}},
{"data":{"values":[{"t":10}]},"mark":{"type":"rule","color":"#8c8c8c","strokeWidth":2},"encoding":{"x":{"field":"t","type":"quantitative","scale":{"domain":[-0.6474,10.1704],"nice":false,"zero":false}},"y":{"datum":0,"type":"quantitative","scale":{"domain":[-0.0233,17.306],"nice":false,"zero":false}},"y2":{"datum":8}}},
{"data":{"values":[{"t":0}]},"mark":{"type":"rule","color":"#5c5c5c","strokeWidth":3},"encoding":{"x":{"field":"t","type":"quantitative","scale":{"domain":[-0.6474,10.1704],"nice":false,"zero":false}},"y":{"datum":0,"type":"quantitative","scale":{"domain":[-0.0233,17.306],"nice":false,"zero":false}},"y2":{"datum":8}}},
{"data":{"name":"bot"},"mark":{"type":"line","color":"#ff1010","strokeWidth":1.5},"encoding":{"x":{"field":"t","type":"quantitative","scale":{"domain":[-0.6474,10.1704],"nice":false,"zero":false}},"y":{"field":"p","type":"quantitative","scale":{"domain":[-0.0233,17.306],"nice":false,"zero":false}}}},
{"data":{"name":"bot"},"mark":{"type":"line","color":"#46e4ee","strokeWidth":1.5},"encoding":{"x":{"field":"t","type":"quantitative","scale":{"domain":[-0.6474,10.1704],"nice":false,"zero":false}},"y":{"field":"u","type":"quantitative","scale":{"domain":[-0.0233,17.306],"nice":false,"zero":false}}}},
{"data":{"name":"bot"},"mark":{"type":"line","color":"#5ef05e","strokeWidth":1.7},"encoding":{"x":{"field":"t","type":"quantitative","scale":{"domain":[-0.6474,10.1704],"nice":false,"zero":false}},"y":{"field":"i","type":"quantitative","scale":{"domain":[-0.0233,17.306],"nice":false,"zero":false}}}},
{"data":{"values":[{"t":6.644,"v":0.233,"s":"time","c":"T"}]},"mark":{"type":"text","align":"right","baseline":"alphabetic","font":"DejaVu Serif","fontStyle":"italic","fontSize":23},"encoding":{"x":{"field":"t","type":"quantitative","scale":{"domain":[-0.6474,10.1704],"nice":false,"zero":false}},"y":{"field":"v","type":"quantitative","scale":{"domain":[-0.0233,17.306],"nice":false,"zero":false}},"text":{"field":"s"},"color":{"field":"c","type":"nominal","scale":{"domain":["P","V","I","T","m","n2","n4"],"range":["#c00000","#00b0f0","#1fe07a","#1fe07a","#ffffff","#1a9595","#2d9e2d"]},"legend":null}}},
{"data":{"values":[{"t":6.644,"v":0.233,"s":"(100 us/div)","c":"T"}]},"mark":{"type":"text","align":"left","baseline":"alphabetic","font":"DejaVu Serif","fontSize":23},"encoding":{"x":{"field":"t","type":"quantitative","scale":{"domain":[-0.6474,10.1704],"nice":false,"zero":false}},"y":{"field":"v","type":"quantitative","scale":{"domain":[-0.0233,17.306],"nice":false,"zero":false}},"text":{"field":"s"},"color":{"field":"c","type":"nominal","scale":{"domain":["P","V","I","T","m","n2","n4"],"range":["#c00000","#00b0f0","#1fe07a","#1fe07a","#ffffff","#1a9595","#2d9e2d"]},"legend":null}}},
{"data":{"values":[{"t":-0.426,"v":8.093,"s":"Tek"}]},"mark":{"type":"text","align":"left","baseline":"alphabetic","font":"DejaVu Sans","fontWeight":"bold","fontSize":16,"color":"#1a1a1a"},"encoding":{"x":{"field":"t","type":"quantitative","scale":{"domain":[-0.6474,10.1704],"nice":false,"zero":false}},"y":{"field":"v","type":"quantitative","scale":{"domain":[-0.0233,17.306],"nice":false,"zero":false}},"text":{"field":"s"}}},
{"data":{"values":[{"t":0.29,"v":8.128,"s":"PreVu"}]},"mark":{"type":"text","align":"left","baseline":"alphabetic","font":"DejaVu Sans","fontSize":15,"color":"#333333"},"encoding":{"x":{"field":"t","type":"quantitative","scale":{"domain":[-0.6474,10.1704],"nice":false,"zero":false}},"y":{"field":"v","type":"quantitative","scale":{"domain":[-0.0233,17.306],"nice":false,"zero":false}},"text":{"field":"s"}}},
{"data":{"values":[{"t":1.431},{"t":8.569}]},"mark":{"type":"rule","color":"#aaaaaa","strokeWidth":1.5},"encoding":{"x":{"field":"t","type":"quantitative","scale":{"domain":[-0.6474,10.1704],"nice":false,"zero":false}},"y":{"datum":8.0,"type":"quantitative","scale":{"domain":[-0.0233,17.306],"nice":false,"zero":false}},"y2":{"datum":8.397}}},
{"data":{"values":[{}]},"mark":{"type":"rule","color":"#e53030","strokeWidth":1.5},"encoding":{"x":{"datum":2.845,"type":"quantitative","scale":{"domain":[-0.6474,10.1704],"nice":false,"zero":false}},"x2":{"datum":7.138},"y":{"datum":8.21,"type":"quantitative","scale":{"domain":[-0.0233,17.306],"nice":false,"zero":false}}}},
{"data":{"values":[{"t":3.748,"v":8.233,"s":"["},{"t":4.157,"v":8.233,"s":"]"}]},"mark":{"type":"text","align":"center","baseline":"middle","font":"DejaVu Sans","fontSize":13,"color":"#444444"},"encoding":{"x":{"field":"t","type":"quantitative","scale":{"domain":[-0.6474,10.1704],"nice":false,"zero":false}},"y":{"field":"v","type":"quantitative","scale":{"domain":[-0.0233,17.306],"nice":false,"zero":false}},"text":{"field":"s"}}},
{"data":{"values":[{"t":5.009,"v":8.35}]},"mark":{"type":"point","shape":"M -1 -0.5 L 1 -0.5 L 0 0.5 Z","filled":true,"color":"#f0901e","opacity":1,"size":81},"encoding":{"x":{"field":"t","type":"quantitative","scale":{"domain":[-0.6474,10.1704],"nice":false,"zero":false}},"y":{"field":"v","type":"quantitative","scale":{"domain":[-0.0233,17.306],"nice":false,"zero":false}}}},
{"data":{"values":[{"t":5.009,"v":7.93}]},"mark":{"type":"point","shape":"M -1 -0.5 L 1 -0.5 L 0 0.5 Z","filled":true,"color":"#f0901e","opacity":1,"size":130},"encoding":{"x":{"field":"t","type":"quantitative","scale":{"domain":[-0.6474,10.1704],"nice":false,"zero":false}},"y":{"field":"v","type":"quantitative","scale":{"domain":[-0.0233,17.306],"nice":false,"zero":false}}}},
{"data":{"values":[{"t":-0.187,"v":4.595,"k":"m"},{"t":-0.187,"v":2.682,"k":"n2"},{"t":-0.187,"v":0.27,"k":"n4"}]},"mark":{"type":"point","shape":"M -1 -0.55 L 0.45 -0.55 L 1 0 L 0.45 0.55 L -1 0.55 Z","filled":true,"opacity":1,"size":484,"strokeWidth":1.2},"encoding":{"x":{"field":"t","type":"quantitative","scale":{"domain":[-0.6474,10.1704],"nice":false,"zero":false}},"y":{"field":"v","type":"quantitative","scale":{"domain":[-0.0233,17.306],"nice":false,"zero":false}},"fill":{"field":"k","type":"nominal","scale":{"domain":["m","n2","n4"],"range":["#a51a1a","#e9f8f8","#effbef"]},"legend":null},"stroke":{"field":"k","type":"nominal","scale":{"domain":["m","n2","n4"],"range":["#a51a1a","#2aa8a8","#3cb43c"]},"legend":null}}},
{"data":{"values":[{"t":-0.221,"v":4.595,"s":"M","c":"m"},{"t":-0.221,"v":2.682,"s":"2","c":"n2"},{"t":-0.221,"v":0.27,"s":"4","c":"n4"}]},"mark":{"type":"text","align":"center","baseline":"middle","font":"DejaVu Sans","fontWeight":"bold","fontSize":12},"encoding":{"x":{"field":"t","type":"quantitative","scale":{"domain":[-0.6474,10.1704],"nice":false,"zero":false}},"y":{"field":"v","type":"quantitative","scale":{"domain":[-0.0233,17.306],"nice":false,"zero":false}},"text":{"field":"s"},"color":{"field":"c","type":"nominal","scale":{"domain":["P","V","I","T","m","n2","n4"],"range":["#c00000","#00b0f0","#1fe07a","#1fe07a","#ffffff","#1a9595","#2d9e2d"]},"legend":null}}},
{"data":{"values":[{"t":9.83,"v":4.688}]},"mark":{"type":"point","shape":"triangle-left","filled":true,"color":"#1a9a9a","opacity":1,"size":45},"encoding":{"x":{"field":"t","type":"quantitative","scale":{"domain":[-0.6474,10.1704],"nice":false,"zero":false}},"y":{"field":"v","type":"quantitative","scale":{"domain":[-0.0233,17.306],"nice":false,"zero":false}}}},
{"data":{"values":[{}]},"mark":{"type":"rule","color":"#1a9a9a","strokeWidth":1.5},"encoding":{"x":{"datum":9.87,"type":"quantitative","scale":{"domain":[-0.6474,10.1704],"nice":false,"zero":false}},"x2":{"datum":9.98},"y":{"datum":4.688,"type":"quantitative","scale":{"domain":[-0.0233,17.306],"nice":false,"zero":false}}}}
]}
]
}
